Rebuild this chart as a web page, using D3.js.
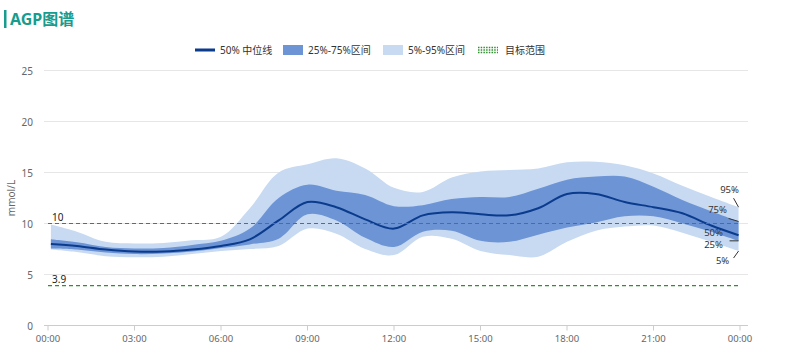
<!DOCTYPE html>
<html>
<head>
<meta charset="utf-8">
<script src="https://cdn.jsdelivr.net/npm/d3@7"></script>
<style>
  body { margin: 0; background: #fff; }
  svg { display: block; font-family: "Noto Sans", "Noto Sans CJK SC", sans-serif; }
</style>
</head>
<body>
<div id="chart"></div>
<script>
// AGP 图谱 — 按小时读取的百分位数据 (mmol/L)
const hours = [0.1, 1, 2, 3, 4, 5, 6, 7, 8, 9, 10, 11, 12, 13, 14, 15, 16, 17, 18, 19, 20, 21, 22, 23, 23.95];
const p50 = [8.0, 7.8, 7.45, 7.25, 7.25, 7.45, 7.8, 8.45, 10.3, 12.1, 11.6, 10.4, 9.5, 10.8, 11.1, 10.9, 10.8, 11.5, 12.9, 12.9, 12.1, 11.6, 11.0, 9.8, 8.85];
const p75 = [8.45, 8.15, 7.7, 7.55, 7.6, 7.9, 8.3, 9.5, 12.5, 13.8, 13.2, 12.8, 11.7, 11.8, 12.4, 12.6, 12.6, 13.4, 14.3, 14.6, 14.6, 13.6, 12.3, 11.2, 10.2];
const p25 = [7.55, 7.45, 7.15, 7.0, 7.05, 7.25, 7.6, 7.95, 8.5, 10.9, 10.3, 8.6, 7.7, 9.2, 9.3, 8.3, 8.2, 8.9, 9.6, 10.1, 10.7, 10.7, 10.0, 9.2, 8.3];
const p95 = [9.9, 9.2, 8.2, 8.05, 8.1, 8.35, 8.7, 11.5, 15.0, 15.8, 16.4, 15.4, 13.5, 13.1, 14.5, 15.1, 15.25, 15.4, 16.0, 16.05, 15.7, 14.9, 13.7, 12.6, 11.6];
const p5  = [7.45, 7.2, 6.8, 6.7, 6.75, 7.0, 7.3, 7.5, 7.8, 9.5, 9.0, 7.5, 6.9, 8.7, 8.5, 7.3, 6.9, 6.75, 8.2, 9.3, 9.7, 9.8, 9.1, 8.2, 7.3];

const xTicks = [0, 3, 6, 9, 12, 15, 18, 21, 24];
const xTickLabels = ["00:00", "03:00", "06:00", "09:00", "12:00", "15:00", "18:00", "21:00", "00:00"];
const yTicks = [0, 5, 10, 15, 20, 25];
const targetLines = [10, 3.9];

const legendItems = [
  { key: "line", label: "50% 中位线" },
  { key: "iqr", label: "25%-75%区间" },
  { key: "outer", label: "5%-95%区间" },
  { key: "target", label: "目标范围" }
];

const COLORS = {
  median: "#0b3b8c",
  iqr: "#6d94d5",
  outer: "#c7daf2",
  target: "#2f902f",
  grid: "#e6e6e6",
  axis: "#cccccc",
  tick: "#666",
  title: "#179c8e"
};

const width = 800, height = 351;
const svg = d3.select("#chart").append("svg")
  .attr("width", width)
  .attr("height", height);

const x = d3.scaleLinear().domain([0, 24]).range([48, 740]);
const y = d3.scaleLinear().domain([0, 25]).range([325.5, 70.5]);

// 标题
svg.append("rect").attr("x", 4).attr("y", 10).attr("width", 2.5).attr("height", 18).attr("fill", COLORS.title);
svg.append("text").attr("x", 10).attr("y", 25)
  .attr("fill", COLORS.title).style("font-size", "16px").style("font-weight", "bold")
  .text("AGP图谱");

// 网格
svg.append("g").selectAll("line")
  .data(yTicks.filter(d => d > 0))
  .join("line")
  .attr("x1", 44).attr("x2", 748)
  .attr("y1", d => y(d)).attr("y2", d => y(d))
  .attr("stroke", COLORS.grid);

svg.append("g").selectAll("text")
  .data(yTicks)
  .join("text")
  .attr("x", 33).attr("y", d => y(d) + 4)
  .attr("text-anchor", "end")
  .attr("fill", COLORS.tick).style("font-size", "10px")
  .text(d => d);

svg.append("text")
  .attr("transform", `translate(15,${y(12.5)}) rotate(-90)`)
  .attr("text-anchor", "middle")
  .attr("fill", COLORS.tick).style("font-size", "10px")
  .text("mmol/L");

// x 轴
const xAxis = svg.append("g");
xAxis.append("line").attr("x1", 44).attr("x2", 748).attr("y1", y(0)).attr("y2", y(0)).attr("stroke", COLORS.axis);
xAxis.selectAll("line.tick")
  .data(xTicks)
  .join("line").attr("class", "tick")
  .attr("x1", d => x(d)).attr("x2", d => x(d))
  .attr("y1", y(0)).attr("y2", y(0) + 5)
  .attr("stroke", COLORS.axis);
xAxis.selectAll("text")
  .data(xTicks)
  .join("text")
  .attr("x", d => x(d)).attr("y", y(0) + 16)
  .attr("text-anchor", "middle")
  .attr("fill", COLORS.tick).style("font-size", "9.5px")
  .text((d, i) => xTickLabels[i]);

// 区间
const rows = hours.map((h, i) => ({ h, p5: p5[i], p25: p25[i], p50: p50[i], p75: p75[i], p95: p95[i] }));
const curve = d3.curveCatmullRom.alpha(0.5);

svg.append("path").datum(rows)
  .attr("fill", COLORS.outer)
  .attr("d", d3.area().curve(curve).x(d => x(d.h)).y0(d => y(d.p5)).y1(d => y(d.p95)));

svg.append("path").datum(rows)
  .attr("fill", COLORS.iqr)
  .attr("d", d3.area().curve(curve).x(d => x(d.h)).y0(d => y(d.p25)).y1(d => y(d.p75)));

svg.append("path").datum(rows)
  .attr("fill", "none").attr("stroke", COLORS.median).attr("stroke-width", 2)
  .attr("d", d3.line().curve(curve).x(d => x(d.h)).y(d => y(d.p50)));

// 目标范围
svg.append("g").selectAll("line")
  .data(targetLines)
  .join("line")
  .attr("x1", x(0)).attr("x2", x(24))
  .attr("y1", d => y(d)).attr("y2", d => y(d))
  .attr("stroke", COLORS.target).attr("stroke-width", 1.2)
  .attr("stroke-dasharray", "4,3");

svg.append("g").selectAll("text")
  .data(targetLines)
  .join("text")
  .attr("x", 52).attr("y", d => y(d) - 3)
  .attr("fill", "#222").style("font-size", "10px")
  .text(d => d);

// 右侧百分位标注
const last = rows[rows.length - 1];
const endLabels = [
  { key: "p95", text: "95%", lx: -9, ly: -18, tx: -5, ty: -9 },
  { key: "p75", text: "75%", lx: -21, ly: -12, tx: -10, ty: -3 },
  { key: "p50", text: "50%", lx: -25, ly: -3, tx: null },
  { key: "p25", text: "25%", lx: -25, ly: 4, tx: -9, ty: 0 },
  { key: "p5", text: "5%", lx: -16, ly: 9, tx: -5, ty: 7 }
];
const ann = svg.append("g");
endLabels.forEach(a => {
  const px = x(last.h), py = y(last[a.key]);
  if (a.tx !== null) {
    ann.append("line")
      .attr("x1", px).attr("y1", py)
      .attr("x2", px + a.tx).attr("y2", py + a.ty)
      .attr("stroke", "#333").attr("stroke-width", 1);
  }
  ann.append("text")
    .attr("x", px + a.lx).attr("y", py + a.ly + 3.5)
    .attr("text-anchor", "middle")
    .attr("fill", "#333").style("font-size", "9.5px")
    .text(a.text);
});

// 图例
const legendX = [195, 283, 383, 478];
const legend = svg.append("g");
legendItems.forEach((item, i) => {
  const g = legend.append("g").attr("transform", `translate(${legendX[i]},50)`);
  if (item.key === "line") {
    g.append("line").attr("x1", 0).attr("x2", 20).attr("stroke", COLORS.median).attr("stroke-width", 3);
  } else if (item.key === "iqr" || item.key === "outer") {
    g.append("rect").attr("x", 0).attr("y", -5).attr("width", 20).attr("height", 10)
      .attr("fill", item.key === "iqr" ? COLORS.iqr : COLORS.outer);
  } else {
    [-2.5, 0, 2.5].forEach(dy => {
      g.append("line").attr("x1", 0).attr("x2", 20).attr("y1", dy).attr("y2", dy)
        .attr("stroke", COLORS.target).attr("stroke-width", 1.3).attr("stroke-dasharray", "1.5,1.2");
    });
  }
  g.append("text").attr("x", item.key === "target" ? 27 : 25).attr("y", 4)
    .attr("fill", "#333").style("font-size", "10px")
    .text(item.label);
});
</script>
</body>
</html>
